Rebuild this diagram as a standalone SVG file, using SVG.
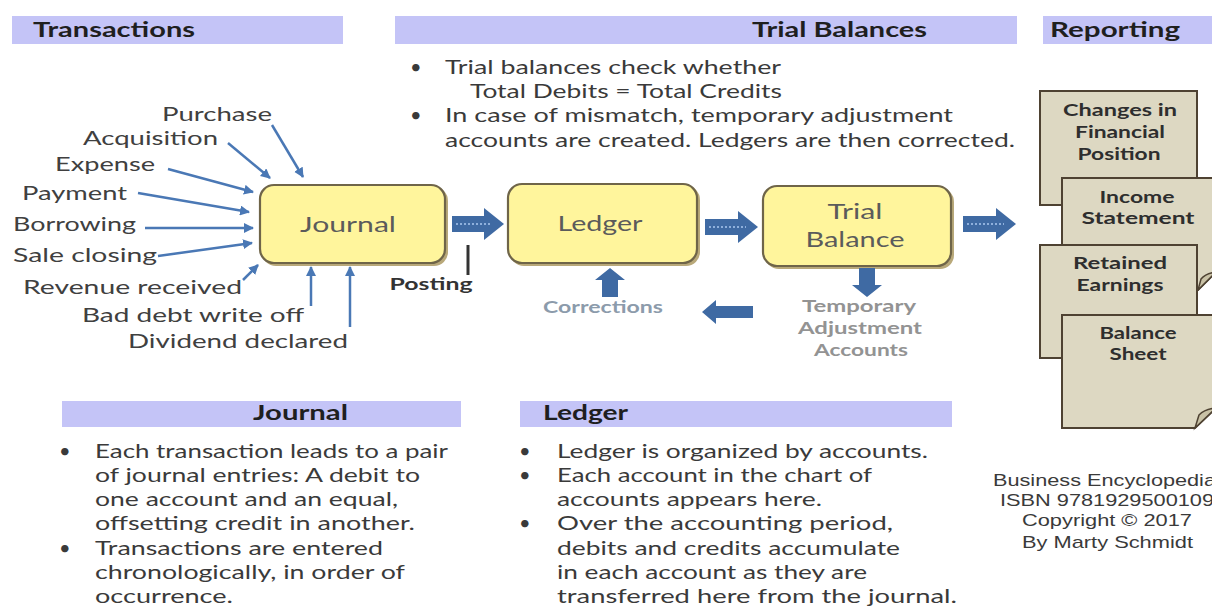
<svg xmlns="http://www.w3.org/2000/svg" width="1212" height="606" viewBox="0 0 1212 606">
  <style>
    .bar { fill: #c4c4f7; }
    .hdr { font-family: Lato, "Open Sans", sans-serif; font-weight: bold; font-size: 20px; fill: #1f1f1f; }
    .lbl { font-family: Lato, "Open Sans", sans-serif; font-size: 20px; fill: #404040; }
    .body { font-family: Lato, "Open Sans", sans-serif; font-size: 20px; fill: #3a3a3a; }
    .box { fill: #fff59c; stroke: #6f6549; stroke-width: 2.2; }
    .boxsh { fill: #b9a97a; }
    .boxt { font-family: Lato, "Open Sans", sans-serif; font-size: 21px; fill: #5b5b5b; text-anchor: middle; }
    .blk { fill: #3f6aa3; }
    .blkin { stroke: #8fb0dc; stroke-width: 2; stroke-dasharray: 2 2; fill: none; }
    .thin { stroke: #4a78b5; stroke-width: 2.5; fill: none; marker-end: url(#ah); }
    .page { fill: #ddd8c2; stroke: #4e4232; stroke-width: 2; }
    .flap { fill: #c9c2a6; stroke: #4e4232; stroke-width: 1.5; }
    .pgt { font-family: Lato, "Open Sans", sans-serif; font-weight: bold; font-size: 17px; fill: #2e2e2e; text-anchor: middle; }
    .side { font-family: Lato, "Open Sans", sans-serif; font-weight: bold; font-size: 17px; text-anchor: middle; }
    .note { font-family: "Liberation Sans", Arial, sans-serif; font-size: 17px; fill: #3a3a3a; }
  </style>
  <defs>
    <marker id="ah" viewBox="0 0 10 10" refX="9" refY="5" markerWidth="4" markerHeight="4" orient="auto">
      <path d="M0,0 L10,5 L0,10 z" fill="#4a78b5"/>
    </marker>
  </defs>

  <!-- section header bars -->
  <g id="header-transactions">
    <rect class="bar" x="12" y="16" width="331" height="28"/>
    <text class="hdr" x="33" y="37" textLength="162" lengthAdjust="spacingAndGlyphs">Transactions</text>
  </g>
  <g id="header-trial-balances">
    <rect class="bar" x="395" y="16" width="622" height="28"/>
    <text class="hdr" x="752" y="37" textLength="175" lengthAdjust="spacingAndGlyphs">Trial Balances</text>
  </g>
  <g id="header-reporting">
    <rect class="bar" x="1043" y="16" width="169" height="28"/>
    <text class="hdr" x="1050" y="37" textLength="130" lengthAdjust="spacingAndGlyphs">Reporting</text>
  </g>

  <!-- trial balance notes -->
  <g id="trial-notes">
    <text class="body" x="410" y="74">•</text>
    <text class="body" x="445" y="74" textLength="336" lengthAdjust="spacingAndGlyphs">Trial balances check whether</text>
    <text class="body" x="470" y="98" textLength="312" lengthAdjust="spacingAndGlyphs">Total Debits = Total Credits</text>
    <text class="body" x="410" y="122">•</text>
    <text class="body" x="445" y="122" textLength="508" lengthAdjust="spacingAndGlyphs">In case of mismatch,  temporary adjustment</text>
    <text class="body" x="445" y="147" textLength="570" lengthAdjust="spacingAndGlyphs">accounts are created. Ledgers are then corrected.</text>
  </g>

  <!-- transaction labels -->
  <g id="transaction-labels">
    <text class="lbl" x="162" y="121" textLength="110" lengthAdjust="spacingAndGlyphs">Purchase</text>
    <text class="lbl" x="83" y="145" textLength="135" lengthAdjust="spacingAndGlyphs">Acquisition</text>
    <text class="lbl" x="55" y="171" textLength="100" lengthAdjust="spacingAndGlyphs">Expense</text>
    <text class="lbl" x="22" y="200" textLength="105" lengthAdjust="spacingAndGlyphs">Payment</text>
    <text class="lbl" x="13" y="231" textLength="123" lengthAdjust="spacingAndGlyphs">Borrowing</text>
    <text class="lbl" x="13" y="262" textLength="144" lengthAdjust="spacingAndGlyphs">Sale closing</text>
    <text class="lbl" x="23" y="294" textLength="219" lengthAdjust="spacingAndGlyphs">Revenue received</text>
    <text class="lbl" x="82" y="322" textLength="222" lengthAdjust="spacingAndGlyphs">Bad debt  write off</text>
    <text class="lbl" x="128" y="348" textLength="220" lengthAdjust="spacingAndGlyphs">Dividend declared</text>
  </g>

  <!-- process boxes -->
  <g id="journal">
    <rect class="boxsh" x="262" y="187" width="186" height="79" rx="14"/>
    <rect class="box" x="260" y="185" width="185" height="78" rx="14"/>
    <text class="boxt" x="348" y="232" textLength="96" lengthAdjust="spacingAndGlyphs">Journal</text>
  </g>
  <g id="ledger">
    <rect class="boxsh" x="510" y="186" width="190" height="80" rx="14"/>
    <rect class="box" x="508" y="184" width="189" height="79" rx="14"/>
    <text class="boxt" x="600" y="231" textLength="85" lengthAdjust="spacingAndGlyphs">Ledger</text>
  </g>
  <g id="trial-balance">
    <rect class="boxsh" x="765" y="188" width="189" height="81" rx="14"/>
    <rect class="box" x="763" y="186" width="188" height="80" rx="14"/>
    <text class="boxt" x="855" y="219" textLength="55" lengthAdjust="spacingAndGlyphs">Trial</text>
    <text class="boxt" x="855" y="247" textLength="99" lengthAdjust="spacingAndGlyphs">Balance</text>
  </g>

  <!-- connectors -->
  <g id="connectors">
    <line class="thin" x1="272" y1="125" x2="303" y2="177"/>
    <line class="thin" x1="228" y1="143" x2="270" y2="178"/>
    <line class="thin" x1="168" y1="169" x2="253" y2="192"/>
    <line class="thin" x1="138" y1="193" x2="249" y2="212"/>
    <line class="thin" x1="145" y1="228" x2="253" y2="228"/>
    <line class="thin" x1="158" y1="256" x2="252" y2="243"/>
    <line class="thin" x1="243" y1="280" x2="258" y2="265"/>
    <line class="thin" x1="311" y1="306" x2="311" y2="267"/>
    <line class="thin" x1="350" y1="327" x2="350" y2="267"/>

    <path class="blk" d="M452,216 H484 V208 L504,224 L484,240 V232 H452 Z"/>
    <line class="blkin" x1="456" y1="224" x2="492" y2="224"/>
    <path class="blk" d="M705,219 H738 V211 L758,227 L738,243 V235 H705 Z"/>
    <line class="blkin" x1="709" y1="227" x2="746" y2="227"/>
    <path class="blk" d="M963,216 H996 V208 L1016,224 L996,240 V232 H963 Z"/>
    <line class="blkin" x1="967" y1="224" x2="1004" y2="224"/>

    <path class="blk" d="M702,312 L716,300 V306 H753 V318 H716 V324 Z"/>
    <path class="blk" d="M610,268 L625,280 H618 V297 H602 V280 H595 Z"/>
    <path class="blk" d="M859,268 H875 V285 H882 L867,297 L852,285 H859 Z"/>

    <line x1="468" y1="245" x2="468" y2="275" stroke="#333" stroke-width="3"/>
  </g>

  <!-- connector labels -->
  <g id="flow-labels">
    <text x="431" y="290" font-family="Lato, 'Open Sans', sans-serif" font-weight="bold" font-size="17" fill="#333" text-anchor="middle" textLength="83" lengthAdjust="spacingAndGlyphs">Posting</text>
    <text class="side" x="603" y="313" fill="#8c9bab" textLength="120" lengthAdjust="spacingAndGlyphs">Corrections</text>
    <text class="side" x="859" y="312" fill="#939393" textLength="114" lengthAdjust="spacingAndGlyphs">Temporary</text>
    <text class="side" x="860" y="334" fill="#939393" textLength="124" lengthAdjust="spacingAndGlyphs">Adjustment</text>
    <text class="side" x="861" y="356" fill="#939393" textLength="94" lengthAdjust="spacingAndGlyphs">Accounts</text>
  </g>

  <!-- report documents -->
  <g id="report-changes">
    <rect class="page" x="1040" y="91" width="157" height="114"/>
    <text class="pgt" x="1120" y="116" textLength="114" lengthAdjust="spacingAndGlyphs">Changes in</text>
    <text class="pgt" x="1120" y="138" textLength="90" lengthAdjust="spacingAndGlyphs">Financial</text>
    <text class="pgt" x="1119" y="160" textLength="83" lengthAdjust="spacingAndGlyphs">Position</text>
  </g>
  <g id="report-income">
    <path class="page" d="M1062,178 H1216 V272 L1198,290 H1062 Z"/>
    <path class="flap" d="M1198,290 L1216,272 Q1206,273 1201,279 Z"/>
    <text class="pgt" x="1137" y="203" textLength="75" lengthAdjust="spacingAndGlyphs">Income</text>
    <text class="pgt" x="1138" y="224" textLength="113" lengthAdjust="spacingAndGlyphs">Statement</text>
  </g>
  <g id="report-retained">
    <rect class="page" x="1040" y="245" width="157" height="113"/>
    <text class="pgt" x="1120" y="269" textLength="94" lengthAdjust="spacingAndGlyphs">Retained</text>
    <text class="pgt" x="1120" y="291" textLength="87" lengthAdjust="spacingAndGlyphs">Earnings</text>
  </g>
  <g id="report-balance">
    <path class="page" d="M1062,315 H1216 V408 L1195,428 H1062 Z"/>
    <path class="flap" d="M1195,428 L1216,408 Q1205,409 1199,415 Z"/>
    <text class="pgt" x="1138" y="339" textLength="77" lengthAdjust="spacingAndGlyphs">Balance</text>
    <text class="pgt" x="1138" y="360" textLength="57" lengthAdjust="spacingAndGlyphs">Sheet</text>
  </g>

  <!-- journal notes -->
  <g id="journal-notes">
    <rect class="bar" x="62" y="401" width="399" height="26"/>
    <text class="hdr" x="253" y="420" textLength="95" lengthAdjust="spacingAndGlyphs">Journal</text>
    <text class="body" x="59" y="458">•</text>
    <text class="body" x="95" y="458" textLength="353" lengthAdjust="spacingAndGlyphs">Each transaction leads to a pair</text>
    <text class="body" x="95" y="482" textLength="325" lengthAdjust="spacingAndGlyphs">of journal entries: A debit to</text>
    <text class="body" x="95" y="506" textLength="303" lengthAdjust="spacingAndGlyphs">one account and an equal,</text>
    <text class="body" x="95" y="530" textLength="320" lengthAdjust="spacingAndGlyphs">offsetting credit in another.</text>
    <text class="body" x="59" y="555">•</text>
    <text class="body" x="95" y="555" textLength="288" lengthAdjust="spacingAndGlyphs">Transactions are entered</text>
    <text class="body" x="95" y="579" textLength="310" lengthAdjust="spacingAndGlyphs">chronologically, in order of</text>
    <text class="body" x="95" y="603" textLength="138" lengthAdjust="spacingAndGlyphs">occurrence.</text>
  </g>

  <!-- ledger notes -->
  <g id="ledger-notes">
    <rect class="bar" x="520" y="401" width="432" height="26"/>
    <text class="hdr" x="543" y="420" textLength="85" lengthAdjust="spacingAndGlyphs">Ledger</text>
    <text class="body" x="519" y="458">•</text>
    <text class="body" x="557" y="458" textLength="371" lengthAdjust="spacingAndGlyphs">Ledger is organized by accounts.</text>
    <text class="body" x="519" y="482">•</text>
    <text class="body" x="557" y="482" textLength="315" lengthAdjust="spacingAndGlyphs">Each account in the chart of</text>
    <text class="body" x="557" y="506" textLength="265" lengthAdjust="spacingAndGlyphs">accounts appears here.</text>
    <text class="body" x="519" y="530">•</text>
    <text class="body" x="557" y="530" textLength="336" lengthAdjust="spacingAndGlyphs">Over the accounting period,</text>
    <text class="body" x="557" y="555" textLength="343" lengthAdjust="spacingAndGlyphs">debits and credits accumulate</text>
    <text class="body" x="557" y="579" textLength="310" lengthAdjust="spacingAndGlyphs">in each account as they are</text>
    <text class="body" x="557" y="603" textLength="400" lengthAdjust="spacingAndGlyphs">transferred  here from the journal.</text>
  </g>

  <!-- publication note -->
  <g id="credits">
    <text class="note" x="993" y="486" textLength="223" lengthAdjust="spacingAndGlyphs">Business Encyclopedia</text>
    <text class="note" x="1000" y="506" textLength="214" lengthAdjust="spacingAndGlyphs">ISBN 9781929500109</text>
    <text class="note" x="1022" y="526" textLength="170" lengthAdjust="spacingAndGlyphs">Copyright © 2017</text>
    <text class="note" x="1022" y="548" textLength="171" lengthAdjust="spacingAndGlyphs">By Marty Schmidt</text>
  </g>
</svg>
